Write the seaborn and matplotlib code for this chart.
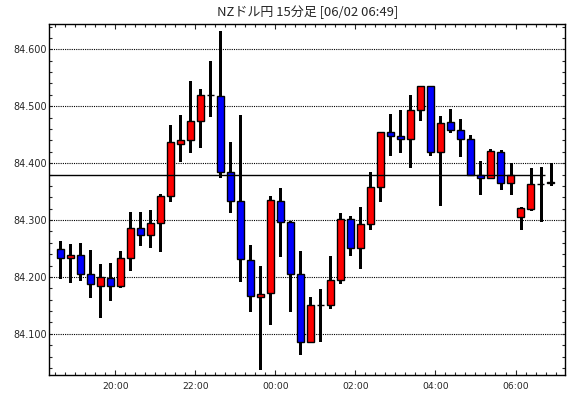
import numpy as np
import pandas as pd
import matplotlib
matplotlib.use("Agg")
import matplotlib.pyplot as plt
import seaborn as sns

# 15-minute bars, 18:30 -> 06:45
times = ["18:30", "18:45", "19:00", "19:15", "19:30", "19:45", "20:00", "20:15", "20:30", "20:45",
         "21:00", "21:15", "21:30", "21:45", "22:00", "22:15", "22:30", "22:45", "23:00", "23:15",
         "23:30", "23:45", "00:00", "00:15", "00:30", "00:45", "01:00", "01:15", "01:30", "01:45",
         "02:00", "02:15", "02:30", "02:45", "03:00", "03:15", "03:30", "03:45", "04:00", "04:15",
         "04:30", "04:45", "05:00", "05:15", "05:30", "05:45", "06:00", "06:15", "06:30", "06:45"]
opens = [84.249, 84.233, 84.239, 84.205, 84.185, 84.198, 84.185, 84.233, 84.286, 84.273,
         84.295, 84.342, 84.434, 84.440, 84.474, 84.519, 84.518, 84.384, 84.333, 84.230,
         84.165, 84.171, 84.333, 84.296, 84.205, 84.086, 84.151, 84.150, 84.195, 84.302,
         84.251, 84.293, 84.358, 84.454, 84.447, 84.442, 84.493, 84.535, 84.419, 84.472,
         84.458, 84.442, 84.379, 84.374, 84.419, 84.365, 84.306, 84.320, 84.363, 84.367]
closes = [84.233, 84.239, 84.205, 84.188, 84.200, 84.185, 84.233, 84.286, 84.273, 84.295,
          84.342, 84.437, 84.440, 84.474, 84.519, 84.519, 84.384, 84.333, 84.231, 84.166,
          84.170, 84.335, 84.296, 84.205, 84.086, 84.151, 84.151, 84.195, 84.302, 84.251,
          84.293, 84.358, 84.454, 84.447, 84.442, 84.493, 84.535, 84.420, 84.470, 84.458,
          84.442, 84.379, 84.374, 84.421, 84.365, 84.379, 84.321, 84.363, 84.363, 84.365]
highs = [84.264, 84.258, 84.260, 84.248, 84.223, 84.225, 84.246, 84.315, 84.315, 84.317,
         84.345, 84.467, 84.485, 84.544, 84.530, 84.580, 84.632, 84.437, 84.485, 84.257,
         84.220, 84.343, 84.357, 84.298, 84.246, 84.165, 84.179, 84.237, 84.313, 84.307,
         84.323, 84.385, 84.454, 84.487, 84.494, 84.520, 84.535, 84.535, 84.482, 84.495,
         84.478, 84.449, 84.403, 84.425, 84.423, 84.400, 84.323, 84.392, 84.394, 84.400]
lows = [84.198, 84.192, 84.195, 84.164, 84.129, 84.159, 84.182, 84.212, 84.257, 84.253,
        84.245, 84.333, 84.403, 84.420, 84.429, 84.483, 84.375, 84.315, 84.193, 84.141,
        84.039, 84.118, 84.236, 84.141, 84.064, 84.086, 84.087, 84.145, 84.189, 84.238,
        84.215, 84.284, 84.334, 84.415, 84.420, 84.393, 84.475, 84.415, 84.326, 84.454,
        84.413, 84.379, 84.345, 84.374, 84.355, 84.346, 84.285, 84.318, 84.298, 84.362]
ref_level = 84.380
tick_times = ["20:00", "22:00", "00:00", "02:00", "04:00", "06:00"]
title = "NZドル円 15分足 [06/02 06:49]"

df = pd.DataFrame({"time": times, "open": opens, "high": highs, "low": lows, "close": closes})
df["x"] = np.arange(len(df))
df["color"] = np.where(df["close"] >= df["open"], "#ff0000", "#0000ff")

sns.set_style("ticks", {"axes.edgecolor": "black", "xtick.direction": "in", "ytick.direction": "in"})
plt.rcParams["font.family"] = ["DejaVu Sans"]

fig = plt.figure(figsize=(5.7, 3.98), dpi=100)
ax = fig.add_axes([0.0865, 0.059, 0.9039, 0.880])

ax.vlines(df["x"], df["low"], df["high"], color="black", lw=1, zorder=2, antialiased=False)
ax.bar(df["x"], df["close"] - df["open"], bottom=df["open"], width=0.65,
       color=df["color"], edgecolor="black", linewidth=1, zorder=3)
ax.hlines(ref_level, -1.1, 48.4, color="black", lw=1, zorder=4)

ax.set_xlim(-1.1, 50.4)
ax.set_ylim(84.0286, 84.644)

major_x = [times.index(t) - 0.5 for t in tick_times]
ax.set_xticks(major_x)
ax.set_xticklabels(tick_times, fontsize=6.7)
ax.set_xticks(np.arange(-0.5, 50.5, 1), minor=True)
yt = np.arange(84.1, 84.61, 0.1)
ax.set_yticks(yt)
ax.set_yticklabels([f"{v:.3f}" for v in yt], fontsize=6.9)
ax.set_yticks(np.arange(84.04, 84.645, 0.02), minor=True)

ax.tick_params(axis="x", which="major", direction="in", length=3.5, width=0.8, top=True, pad=5.5)
ax.tick_params(axis="x", which="minor", direction="in", length=2, width=0.8, top=True)
ax.tick_params(axis="y", which="both", direction="in", length=2.2, width=0.8, right=True, pad=1.5)
for s in ax.spines.values():
    s.set_linewidth(1)

ax.set_axisbelow(True)
ax.yaxis.grid(True, which="major", color="black", linestyle=(0, (1, 1)), lw=0.8)
ax.set_xlabel("")
ax.set_ylabel("")

fig.text(0.539, 0.969, title, ha="center", va="center", fontsize=9.4,
         family=["Noto Sans CJK JP", "DejaVu Sans"])

fig.savefig("out.png", dpi=100, facecolor="white")
